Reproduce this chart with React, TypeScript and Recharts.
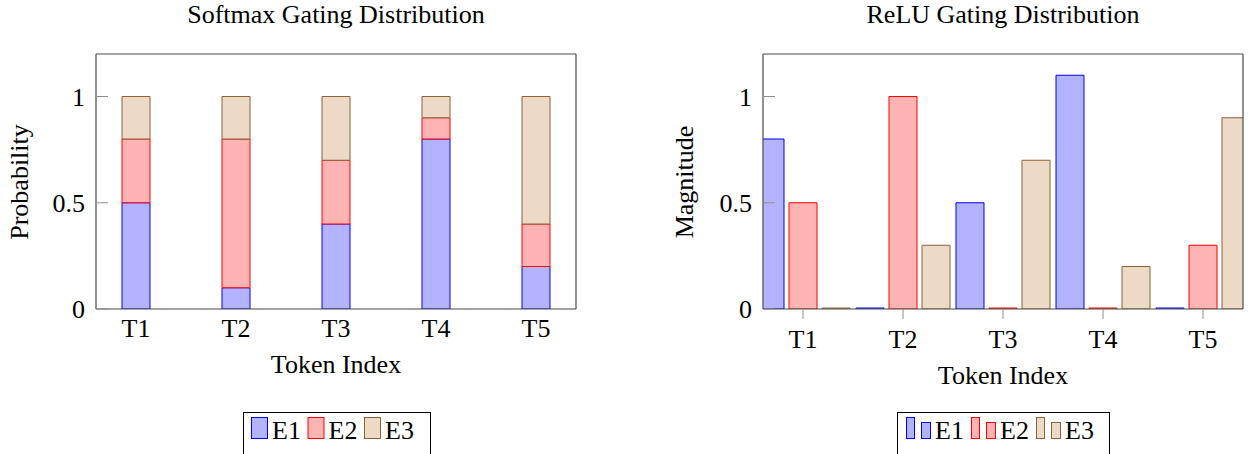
import { Bar, BarChart, XAxis, YAxis } from "recharts";

const TOKENS = ["T1", "T2", "T3", "T4", "T5"];
const EXPERTS = ["E1", "E2", "E3"];

// softmax gate: probabilities per token, stacked
const SOFTMAX_E1 = [0.5, 0.1, 0.4, 0.8, 0.2];
const SOFTMAX_E2 = [0.3, 0.7, 0.3, 0.1, 0.2];
const SOFTMAX_E3 = [0.2, 0.2, 0.3, 0.1, 0.6];

// relu gate: raw magnitudes, grouped
const RELU_E1 = [0.8, 0, 0.5, 1.1, 0];
const RELU_E2 = [0.5, 1.0, 0, 0, 0.3];
const RELU_E3 = [0, 0.3, 0.7, 0.2, 0.9];

const Y_TICKS = [0, 0.5, 1];

const FILLS = ["#b3b3ff", "#ffb3b3", "#ecd9c6"];
const STROKES = ["#0000ff", "#ff0000", "#8c6239"];

const SERIF = "'Liberation Serif', 'Times New Roman', serif";
const FONT = 26;
const FRAME = "#4a4a4a";
const TICK = "#8f8f8f";
const CHART_W = 624;

function toRows(series: number[][]) {
  return TOKENS.map((token, i) => {
    const row: Record<string, string | number> = { token };
    EXPERTS.forEach((e, j) => {
      row[e] = series[j][i];
    });
    return row;
  });
}

// pgfplots clips bars at the axis box; recharts won't clip a band axis, so trim here
function clippedBar(lo: number, hi: number, fill: string, stroke: string) {
  return (p: any) => {
    const { x, y, width, height } = p;
    if (![x, y, width, height].every((v) => typeof v === "number")) return <g />;
    const x0 = Math.max(x, lo);
    const x1 = Math.min(x + width, hi);
    if (x1 <= x0 || height <= 0) return <g />;
    const y0 = y;
    const y1 = y + height;
    let d = `M${x0},${y0}H${x1}M${x0},${y1}H${x1}`;
    if (x >= lo) d += `M${x0},${y0}V${y1}`;
    if (x + width <= hi) d += `M${x1},${y0}V${y1}`;
    return (
      <g>
        <rect x={x0} y={y0} width={x1 - x0} height={height} fill={fill} />
        <path d={d} stroke={stroke} strokeWidth={1} fill="none" />
      </g>
    );
  };
}

interface PanelProps {
  data: Record<string, string | number>[];
  left: number;
  stacked: boolean;
  yAxisWidth: number;
  rightAxisWidth: number;
  marginRight: number;
  topTickSize: number;
  bottomTickSize: number;
  bottomTickMargin: number;
}

function Panel({ data, left, stacked, yAxisWidth, rightAxisWidth, marginRight, topTickSize, bottomTickSize, bottomTickMargin }: PanelProps) {
  const tickFont = { fill: "#000", fontSize: FONT, fontFamily: SERIF };
  const plotLeft = yAxisWidth;
  const plotRight = CHART_W - marginRight - rightAxisWidth;
  return (
    <div style={{ position: "absolute", left, top: 0 }}>
      <BarChart
        width={CHART_W}
        height={454}
        data={data}
        margin={{ top: 24, right: marginRight, bottom: 105, left: 0 }}
        barSize={28}
        barGap={5}
      >
        <XAxis
          xAxisId="b"
          dataKey="token"
          interval={0}
          height={40}
          padding={{ left: -10, right: -10 }}
          stroke={FRAME}
          strokeWidth={1.2}
          tickLine={bottomTickSize > 0 ? { stroke: TICK, strokeWidth: 1 } : false}
          tickSize={bottomTickSize}
          tickMargin={bottomTickMargin}
          tick={tickFont}
        />
        <XAxis
          xAxisId="t"
          dataKey="token"
          orientation="top"
          interval={0}
          height={30}
          padding={{ left: -10, right: -10 }}
          stroke={FRAME}
          strokeWidth={1.2}
          tickLine={{ stroke: TICK, strokeWidth: 1 }}
          tickSize={topTickSize}
          tick={false}
        />
        <YAxis
          yAxisId="l"
          type="number"
          domain={[0, 1.2]}
          ticks={Y_TICKS}
          allowDataOverflow
          width={yAxisWidth}
          stroke={FRAME}
          strokeWidth={1.2}
          tickLine={{ stroke: TICK, strokeWidth: 1 }}
          tickSize={-12}
          tickMargin={23}
          tick={tickFont}
        />
        <YAxis
          yAxisId="r"
          orientation="right"
          type="number"
          domain={[0, 1.2]}
          ticks={Y_TICKS}
          allowDataOverflow
          width={rightAxisWidth}
          stroke={FRAME}
          strokeWidth={1.2}
          tickLine={{ stroke: TICK, strokeWidth: 1 }}
          tickSize={-12}
          tick={false}
        />
        {EXPERTS.map((e, j) => (
          <Bar
            key={e}
            xAxisId="b"
            yAxisId="l"
            dataKey={e}
            stackId={stacked ? "s" : undefined}
            fill={FILLS[j]}
            stroke={STROKES[j]}
            minPointSize={stacked ? 0 : 1}
            shape={clippedBar(plotLeft, plotRight, FILLS[j], STROKES[j])}
            isAnimationActive={false}
          />
        ))}
      </BarChart>
    </div>
  );
}

function Legend({ x, width, ybar }: { x: number; width: number; ybar: boolean }) {
  const step = ybar ? 65 : 56.5;
  return (
    <g>
      <rect x={x + 0.5} y={412.5} width={width} height={60} fill="#fff" stroke="#000" strokeWidth={1} />
      {EXPERTS.map((e, j) => {
        const sx = x + (ybar ? 9 : 8) + j * step;
        return ybar ? (
          <g key={e}>
            <rect x={sx + 0.5} y={417.5} width={8} height={21} fill={FILLS[j]} stroke={STROKES[j]} />
            <rect x={sx + 15.5} y={422.5} width={9} height={16} fill={FILLS[j]} stroke={STROKES[j]} />
            <text x={sx + 29} y={439}>{e}</text>
          </g>
        ) : (
          <g key={e}>
            <rect x={sx + 0.5} y={417.5} width={16} height={21} fill={FILLS[j]} stroke={STROKES[j]} />
            <text x={sx + 21} y={439}>{e}</text>
          </g>
        );
      })}
    </g>
  );
}

export default function App() {
  return (
    <div style={{ position: "absolute", left: 0, top: 0, width: 1248, height: 454, overflow: "hidden", background: "#fff" }}>
      <Panel
        data={toRows([SOFTMAX_E1, SOFTMAX_E2, SOFTMAX_E3])}
        left={0}
        stacked
        yAxisWidth={96}
        rightAxisWidth={10}
        marginRight={38}
        topTickSize={-12}
        bottomTickSize={0}
        bottomTickMargin={9.5}
      />
      <Panel
        data={toRows([RELU_E1, RELU_E2, RELU_E3])}
        left={624}
        stacked={false}
        yAxisWidth={139}
        rightAxisWidth={5}
        marginRight={0}
        topTickSize={11}
        bottomTickSize={10}
        bottomTickMargin={10.5}
      />
      <svg width={1248} height={454} style={{ position: "absolute", left: 0, top: 0, pointerEvents: "none" }}
        fontFamily={SERIF} fontSize={FONT} fill="#000">
        <text x={336} y={23} textAnchor="middle">Softmax Gating Distribution</text>
        <text x={1003} y={23} textAnchor="middle">ReLU Gating Distribution</text>
        <text x={336} y={373} textAnchor="middle">Token Index</text>
        <text x={1003} y={384} textAnchor="middle">Token Index</text>
        <text transform="translate(27.5,182) rotate(-90)" textAnchor="middle">Probability</text>
        <text transform="translate(693,182) rotate(-90)" textAnchor="middle">Magnitude</text>
        <Legend x={243} width={187} ybar={false} />
        <Legend x={897} width={212} ybar />
      </svg>
    </div>
  );
}
